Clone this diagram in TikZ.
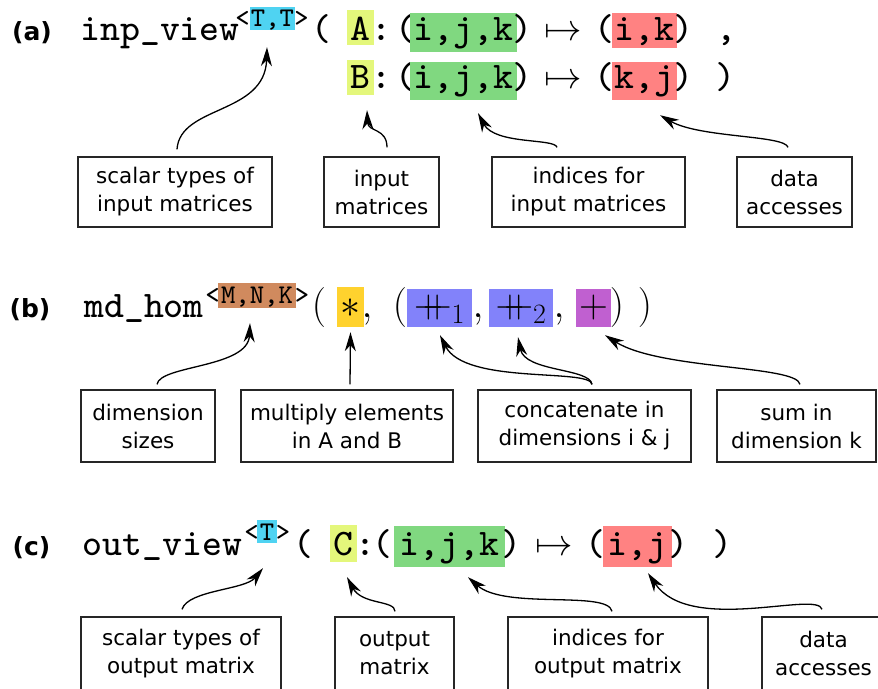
\RequirePackage{fix-cm}
\documentclass[tikz,border=0pt]{standalone}
\usepackage{fontspec}
\newfontfamily\boxfont{DejaVu Sans}
\newfontfamily\ttheavy{lmmono8-regular.otf}
\usetikzlibrary{arrows.meta,calc}
\definecolor{hcyan}{HTML}{4FD3F2}
\definecolor{hlime}{HTML}{E4F77B}
\definecolor{hgreen}{HTML}{80D880}
\definecolor{hred}{HTML}{FF8282}
\definecolor{hbrown}{HTML}{D08A5E}
\definecolor{hyellow}{HTML}{FFD22E}
\definecolor{hblue}{HTML}{8282FA}
\definecolor{hpurple}{HTML}{C060D0}
\begin{document}
\begin{tikzpicture}[x=1pt,y=-1pt,
  tt/.style={inner sep=0pt, anchor=base, font=\fontsize{37.5}{40}\selectfont\ttheavy},
  tts/.style={inner sep=0pt, anchor=base, font=\fontsize{27}{30}\selectfont\ttheavy},
  mth/.style={inner sep=0pt, anchor=base, font=\fontsize{37.5}{40}\selectfont},
  mthb/.style={inner sep=0pt, anchor=base, font=\fontsize{40}{44}\selectfont},
  hl/.style n args={4}{fill=#1, minimum width=#2, text height=#3, text depth=#4},
  lbl/.style={inner sep=0pt, anchor=base, font=\fontsize{25}{28}\selectfont\boxfont\bfseries},
  box/.style={draw=black!85, line width=1.3pt, align=center, inner sep=0pt,
    font=\fontsize{21.5}{28}\selectfont\boxfont},
  arr/.style={line width=1.3pt, -{Stealth[length=19pt,width=11pt,inset=6pt]}}
]
\useasboundingbox (0,0) rectangle (878,688);
\clip (0,0) rectangle (878,688);

% ---------------- (a) ----------------
\node[lbl] (lblA) at (32,40) {(a)};
\node[tt] (nameA) at (160,40) {inp\_view};
\node[tts] (ltA) at (242.5,26) {<};
\node[tts,hl={hcyan}{45pt}{19pt}{4pt}] (ttA) at (272.5,26) {T,T};
\node[tts] (gtA) at (301.5,26) {>};
\node[tt] (opA) at (321.5,40) {(};
\node[tt,hl={hlime}{27pt}{30pt}{5pt}] (matA) at (360.5,40) {A};
\node[tt] (colA) at (381,40) {:};
\node[tt] (ipA) at (405.5,40) {(};
\node[tt,hl={hgreen}{107pt}{27pt}{12pt}] (idxA) at (463.5,40) {i,j,k};
\node[tt] (icA) at (522,40) {)};
\node[mth] (mapA) at (563.5,40) {$\mapsto$};
\node[tt] (apA) at (604,40) {(};
\node[tt,hl={hred}{65pt}{27pt}{8pt}] (accA) at (644.5,40) {i,k};
\node[tt] (acA) at (683,40) {)};
\node[tt] (commaA) at (726,40) {,};

\node[tt,hl={hlime}{27pt}{28pt}{7pt}] (matB) at (360.5,88) {B};
\node[tt] (colB) at (381,88) {:};
\node[tt] (ipB) at (405.5,88) {(};
\node[tt,hl={hgreen}{107pt}{26pt}{12pt}] (idxB) at (463.5,88) {i,j,k};
\node[tt] (icB) at (522,88) {)};
\node[mth] (mapB) at (563.5,88) {$\mapsto$};
\node[tt] (apB) at (604,88) {(};
\node[tt,hl={hred}{65pt}{26pt}{12pt}] (accB) at (644.5,88) {k,j};
\node[tt] (acB) at (683,88) {)};
\node[tt] (endA) at (725,88) {)};

\node[box, minimum width=194pt, minimum height=70pt] (a1) at (175,192) {scalar types of\\input matrices};
\node[box, minimum width=115pt, minimum height=70pt] (a2) at (381.5,192) {input\\matrices};
\node[box, minimum width=193pt, minimum height=70pt] (a3) at (588.5,192) {indices for\\input matrices};
\node[box, minimum width=115pt, minimum height=70pt] (a4) at (794.5,192) {data\\accesses};

\draw[arr] ($(a1.north)+(2,-7)$) .. controls (180,105) and (265,115) .. ($(ttA.south)+(-5.5,17)$);
\draw[arr] ($(a2.north)+(5.5,-9)$) .. controls (387,128) and (368,132) .. ($(matB.south)+(6.5,15)$);
\draw[arr] ($(a3.north)+(-31.5,-9)$) .. controls (555,138) and (495,145) .. ($(idxB.south)+(14.5,13)$);
\draw[arr] ($(a4.north)+(-6.5,-9)$) .. controls (785,135) and (700,138) .. ($(accB.south)+(15.5,15)$);

% ---------------- (b) ----------------
\node[lbl] (lblB) at (30,317) {(b)};
\node[tt] (nameB) at (144,317) {md\_hom};
\node[tts] (ltB) at (212.5,303) {<};
\node[tts,hl={hbrown}{78pt}{20pt}{5pt}] (dimB) at (257,303) {M,N,K};
\node[tts] (gtB) at (302,303) {>};
\node[mthb] (opB) at (319,317) {$($};
\node[mthb,hl={hyellow}{27pt}{30pt}{10pt}] (mulB) at (350.5,317) {$*$};
\node[mthb] (cm1B) at (367,317) {$,$};
\node[mthb] (ipBB) at (400,317) {$($};
\node[mthb,hl={hblue}{65pt}{28pt}{10pt}] (cat1B) at (439.5,317) {${+\!\!\!+}_1$};
\node[mthb] (cm2B) at (478,317) {$,$};
\node[mthb,hl={hblue}{64pt}{28pt}{10pt}] (cat2B) at (521,317) {${+\!\!\!+}_2$};
\node[mthb] (cm3B) at (559,317) {$,$};
\node[mthb,hl={hpurple}{35pt}{28pt}{10pt}] (sumB) at (593.5,317) {$+$};
\node[mthb] (cp1B) at (617,317) {$)$};
\node[mthb] (cp2B) at (645,317) {$)$};

\node[box, minimum width=134pt, minimum height=72pt] (b1) at (148,426) {dimension\\sizes};
\node[box, minimum width=212pt, minimum height=72pt] (b2) at (347,426) {multiply elements\\in A and B};
\node[box, minimum width=213pt, minimum height=72pt] (b3) at (584.5,426) {concatenate in\\dimensions i \& j};
\node[box, minimum width=159pt, minimum height=72pt] (b4) at (796.5,426) {sum in\\dimension k};

\draw[arr] ($(b1.north)+(9,-5)$) .. controls (160,365) and (248,368) .. ($(dimB.south)+(-7,15)$);
\draw[arr] ($(b2.north)+(3,-5)$) -- ($(mulB.south)+(0,5)$);
\draw[arr] ($(b3.north)+(7.5,-5)$) .. controls (590,368) and (465,385) .. ($(cat1B.south)+(0.5,8)$);
\draw[arr] ($(b3.north)+(7.5,-5)$) .. controls (590,368) and (525,372) .. ($(cat2B.south)+(-3,10)$);
\draw[arr] ($(b4.north)+(3.5,-5)$) .. controls (797,365) and (660,370) .. ($(sumB.south)+(11.5,8)$);

% ---------------- (c) ----------------
\node[lbl] (lblC) at (31.5,555) {(c)};
\node[tt] (nameC) at (162.5,555) {out\_view};
\node[tts] (ltC) at (251.5,540) {<};
\node[tts,hl={hcyan}{20pt}{20pt}{3pt}] (ttC) at (267,540) {T};
\node[tts] (gtC) at (283,540) {>};
\node[tt] (opC) at (303,555) {(};
\node[tt,hl={hlime}{27pt}{30pt}{7pt}] (matC) at (343.5,555) {C};
\node[tt] (colC) at (365,555) {:};
\node[tt] (ipC) at (382,555) {(};
\node[tt,hl={hgreen}{111pt}{29pt}{12pt}] (idxC) at (449.5,555) {i,j,k};
\node[tt] (icC) at (511,555) {)};
\node[mth] (mapC) at (554.5,555) {$\mapsto$};
\node[tt] (apC) at (595,555) {(};
\node[tt,hl={hred}{69pt}{29pt}{12pt}] (accC) at (637.5,555) {i,j};
\node[tt] (acC) at (678,555) {)};
\node[tt] (endC) at (722,555) {)};

\node[box, minimum width=200pt, minimum height=73pt] (c1) at (181,653.5) {scalar types of\\output matrix};
\node[box, minimum width=119pt, minimum height=73pt] (c2) at (394.5,653.5) {output\\matrix};
\node[box, minimum width=200pt, minimum height=73pt] (c3) at (608,653.5) {indices for\\output matrix};
\node[box, minimum width=123pt, minimum height=73pt] (c4) at (823.5,653.5) {data\\accesses};

\draw[arr] ($(c1.north)+(1,-7)$) .. controls (188,590) and (245,590) .. ($(ttC.south)+(-4,25)$);
\draw[arr] ($(c2.north)+(0.5,-5)$) .. controls (395,600) and (362,605) .. ($(matC.south)+(3.5,15)$);
\draw[arr] ($(c3.north)+(4,-5)$) .. controls (608,590) and (505,610) .. ($(idxC.south)+(18.5,10)$);
\draw[arr] ($(c4.north)+(-1.5,-7)$) .. controls (818,590) and (690,635) .. ($(accC.south)+(10.5,6)$);
\end{tikzpicture}
\end{document}
